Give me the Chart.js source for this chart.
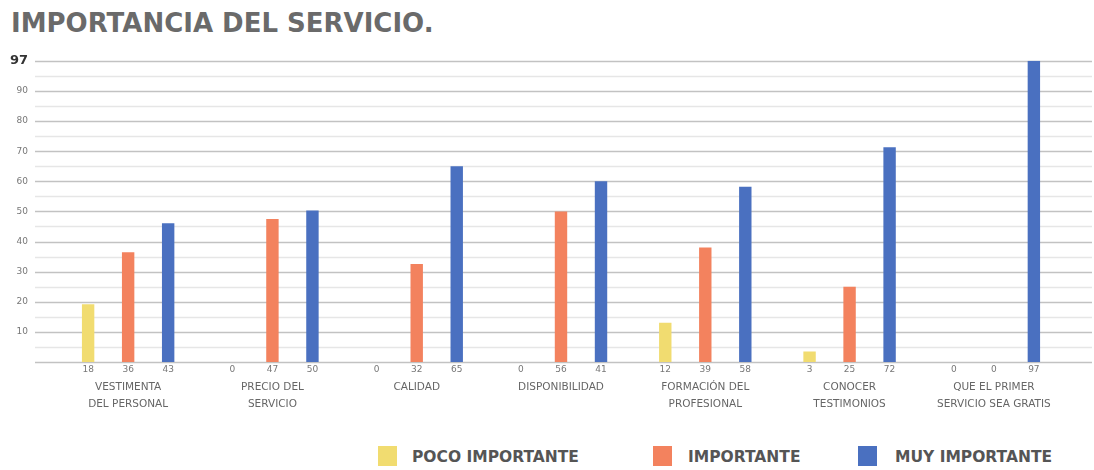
<!DOCTYPE html>
<html>
<head>
<meta charset="utf-8">
<script src="https://cdn.jsdelivr.net/npm/chart.js@4/dist/chart.umd.min.js"></script>
<style>
  html, body { margin: 0; padding: 0; background: #fff; }
  body { width: 1094px; height: 470px; position: relative; overflow: hidden; font-family: "DejaVu Sans", sans-serif; }
  #titulo { position: absolute; left: 11px; top: 10px; margin: 0; font-size: 26px; line-height: 26px; font-weight: bold; color: #6a6a6a; white-space: nowrap; }
  #grafica { position: absolute; left: 0; top: 25px; width: 1094px; height: 395px; }
  .leyenda-caja { position: absolute; top: 446px; width: 19px; height: 20px; }
  .leyenda-texto { position: absolute; top: 447px; font-size: 15.5px; line-height: 20px; font-weight: bold; color: #555; white-space: nowrap; }
</style>
</head>
<body>
<h1 id="titulo">IMPORTANCIA DEL SERVICIO.</h1>
<div id="grafica"><canvas id="canvas" width="1094" height="395"></canvas></div>
<div id="leyenda"></div>
<script>
// Datos
const categorias = [
  ['VESTIMENTA', 'DEL PERSONAL'],
  ['PRECIO DEL', 'SERVICIO'],
  'CALIDAD',
  'DISPONIBILIDAD',
  ['FORMACIÓN DEL', 'PROFESIONAL'],
  ['CONOCER', 'TESTIMONIOS'],
  ['QUE EL PRIMER', 'SERVICIO SEA GRATIS']
];
const series = ['POCO IMPORTANTE', 'IMPORTANTE', 'MUY IMPORTANTE'];

// altura de las barras
const pocoImportante = [19.2, 0, 0, 0, 13, 3.5, 0];
const importante = [36.4, 47.5, 32.5, 50, 38, 25, 0];
const muyImportante = [46.1, 50.3, 65, 60, 58.2, 71.3, 100];

// números que aparecen debajo de cada barra
const textoPoco = ['18', '0', '0', '0', '12', '3', '0'];
const textoImportante = ['36', '47', '32', '56', '39', '25', '0'];
const textoMuy = ['43', '50', '65', '41', '58', '72', '97'];

// ticks del eje Y
const ticksY = [10, 20, 30, 40, 50, 60, 70, 80, 90];
const etiquetaTope = '97';

// Estilos
const colores = ['#f1dc70', '#f3825e', '#4a70c0'];
const posLeyenda = [{ caja: 378, texto: 412 }, { caja: 653, texto: 688 }, { caja: 858, texto: 895 }];

Chart.defaults.font.family = '"DejaVu Sans", sans-serif';

// leyenda en html
const leyenda = document.getElementById('leyenda');
series.forEach((nombre, i) => {
  const caja = document.createElement('div');
  caja.className = 'leyenda-caja';
  caja.style.left = posLeyenda[i].caja + 'px';
  caja.style.background = colores[i];
  const texto = document.createElement('div');
  texto.className = 'leyenda-texto';
  texto.style.left = posLeyenda[i].texto + 'px';
  texto.textContent = nombre;
  leyenda.appendChild(caja);
  leyenda.appendChild(texto);
});

// líneas horizontales cada 5, más largas que el área del gráfico
const lineasFondo = {
  id: 'lineasFondo',
  beforeDatasetsDraw(chart) {
    const c = chart.ctx, y = chart.scales.y;
    c.save();
    for (let v = 0; v <= 100; v += 5) {
      const py = Math.round(y.getPixelForValue(v)) + 0.5;
      c.strokeStyle = v % 10 === 0 ? '#c2c2c2' : '#e6e6e6';
      c.lineWidth = 1.5;
      c.beginPath();
      c.moveTo(35, py);
      c.lineTo(1092, py);
      c.stroke();
    }
    c.restore();
  }
};

// números bajo las barras
const textosBarras = [textoPoco, textoImportante, textoMuy];
const numerosBarras = {
  id: 'numerosBarras',
  afterDatasetsDraw(chart) {
    const c = chart.ctx;
    c.save();
    c.font = '9px "DejaVu Sans", sans-serif';
    c.fillStyle = '#777';
    c.textAlign = 'center';
    c.textBaseline = 'middle';
    chart.data.datasets.forEach((ds, i) => {
      chart.getDatasetMeta(i).data.forEach((barra, j) => {
        c.fillText(textosBarras[i][j], barra.x, chart.chartArea.bottom + 8);
      });
    });
    c.restore();
  }
};

new Chart(document.getElementById('canvas').getContext('2d'), {
  type: 'bar',
  data: {
    labels: categorias,
    datasets: [
      { label: series[0], data: pocoImportante, backgroundColor: colores[0] },
      { label: series[1], data: importante, backgroundColor: colores[1] },
      { label: series[2], data: muyImportante, backgroundColor: colores[2] }
    ]
  },
  options: {
    responsive: false,
    animation: false,
    layout: { padding: { left: 0, right: 28, top: 0, bottom: 0 } },
    datasets: { bar: { categoryPercentage: 0.832, barPercentage: 0.31 } },
    plugins: { legend: { display: false }, tooltip: { enabled: false } },
    scales: {
      x: {
        grid: { display: false, drawTicks: false },
        border: { display: false },
        ticks: { autoSkip: false, maxRotation: 0, padding: 17, color: '#666', font: { size: 10.5, lineHeight: 1.6 } },
        afterFit: (s) => { s.height = 58; }
      },
      y: {
        min: 0,
        max: 100,
        grid: { display: false, drawTicks: false },
        border: { display: false },
        ticks: {
          stepSize: 10,
          autoSkip: false,
          padding: 28,
          callback: (v) => v === 100 ? etiquetaTope : (ticksY.includes(v) ? String(v) : ''),
          color: (ctx) => ctx.tick && ctx.tick.value === 100 ? '#333' : '#777',
          font: (ctx) => ctx.tick && ctx.tick.value === 100 ? { size: 13, weight: 'bold' } : { size: 9 }
        },
        afterFit: (s) => { s.width = 56; }
      }
    }
  },
  plugins: [lineasFondo, numerosBarras]
});
</script>
</body>
</html>
